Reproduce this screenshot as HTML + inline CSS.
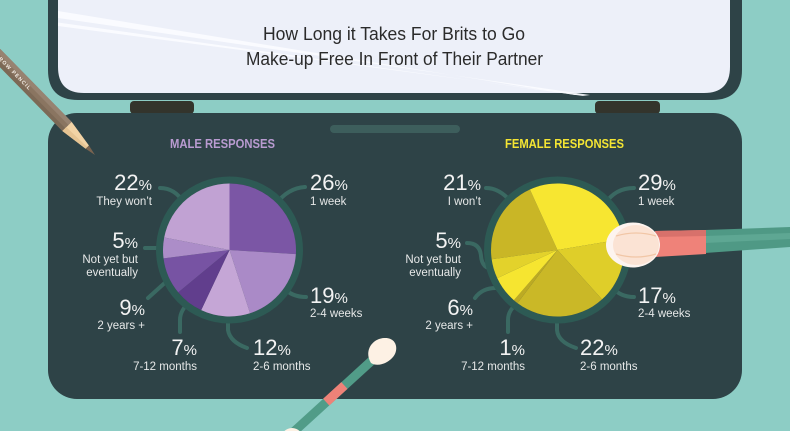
<!DOCTYPE html>
<html><head><meta charset="utf-8"><style>
html,body{margin:0;padding:0;background:#8dcdc5;}
svg{display:block;}
text{font-family:"Liberation Sans",sans-serif;}
</style></head><body>
<svg width="790" height="431" viewBox="0 0 790 431" xmlns="http://www.w3.org/2000/svg">
<rect x="0" y="0" width="790" height="431" fill="#8dcdc5"/>
<!-- top mirror frame -->
<path d="M48,-10 H742 V70 Q742,100 712,100 H78 Q48,100 48,70 Z" fill="#2e4347"/>
<path d="M58,-10 H730 V67 Q730,93 704,93 H84 Q58,93 58,67 Z" fill="#edf0f9"/>
<polygon points="58,11 58,18 590,95 575,95" fill="#fbfcff" opacity="0.9"/>
<polygon points="58,22.5 58,26 590,96 583,96" fill="#fbfcff" opacity="0.9"/>
<text x="263" y="40" font-size="18" fill="#2b2b2b" textLength="262" lengthAdjust="spacingAndGlyphs">How Long it Takes For Brits to Go</text>
<text x="246" y="65" font-size="18" fill="#2b2b2b" textLength="297" lengthAdjust="spacingAndGlyphs">Make-up Free In Front of Their Partner</text>
<!-- hinges -->
<rect x="130" y="101" width="64" height="13" rx="4" fill="#33342c"/>
<rect x="595" y="101" width="65" height="13" rx="4" fill="#33342c"/>
<!-- case -->
<rect x="48" y="113" width="694" height="286" rx="29" fill="#2e4347"/>
<rect x="330" y="125" width="130" height="8" rx="4" fill="#3d5e5c"/>
<!-- headers -->
<text x="170" y="148" font-size="12.5" font-weight="bold" fill="#b99bd1" textLength="105" lengthAdjust="spacingAndGlyphs">MALE RESPONSES</text>
<text x="505" y="148" font-size="12.5" font-weight="bold" fill="#f4e533" textLength="119" lengthAdjust="spacingAndGlyphs">FEMALE RESPONSES</text>

<!-- connectors -->
<g fill="none" stroke="#3a6962" stroke-width="4" stroke-linecap="round">
<path d="M160,188 Q175,188 184,203"/>
<path d="M276,204 Q288,188 305,187"/>
<path d="M145,248 L164,248"/>
<path d="M148,298 L168,280"/>
<path d="M190,302 Q180,310 180,320 L180,332"/>
<path d="M228,316 L228,330 Q230,342 247,348"/>
<path d="M284,288 Q292,297 306,297"/>
<path d="M486,188 Q500,188 512,203"/>
<path d="M605,204 Q615,188 634,188"/>
<path d="M467,243 Q480,243 481,256 Q482,269 494,269"/>
<path d="M475,298 Q482,288 496,288"/>
<path d="M518,303 Q508,310 508,320 L508,332"/>
<path d="M557,316 L557,330 Q558,342 576,348"/>
<path d="M612,287 Q620,297 634,297"/>
</g>

<!-- male pie -->
<circle cx="229.5" cy="250" r="70" fill="none" stroke="#2d5a54" stroke-width="7"/>
<path d="M229.5,250 L229.5,183.5 A66.5,66.5 0 0 1 295.87,254.18 Z" fill="#7b56a5"/>
<path d="M229.5,250 L295.87,254.18 A66.5,66.5 0 0 1 250.05,313.25 Z" fill="#aa8ac7"/>
<path d="M229.5,250 L250.05,313.25 A66.5,66.5 0 0 1 201.19,310.17 Z" fill="#c5a6d6"/>
<path d="M229.5,250 L201.19,310.17 A66.5,66.5 0 0 1 178.26,292.39 Z" fill="#613e8d"/>
<path d="M229.5,250 L178.26,292.39 A66.5,66.5 0 0 1 163.52,258.33 Z" fill="#7753a3"/>
<path d="M229.5,250 L163.52,258.33 A66.5,66.5 0 0 1 164.18,237.54 Z" fill="#ac8dc8"/>
<path d="M229.5,250 L164.18,237.54 A66.5,66.5 0 0 1 229.5,183.5 Z" fill="#c1a2d3"/>

<!-- female pie -->
<circle cx="557.5" cy="250" r="70" fill="none" stroke="#2d5a54" stroke-width="7"/>
<path d="M557.5,250 L491.65,259.25 A66.5,66.5 0 0 1 529.92,189.49 Z" fill="#c9b626"/>
<path d="M557.5,250 L529.92,189.49 A66.5,66.5 0 0 1 623.09,239.02 Z" fill="#f7e631"/>
<path d="M557.5,250 L623.09,239.02 A66.5,66.5 0 0 1 602.00,299.42 Z" fill="#dfce29"/>
<path d="M557.5,250 L602.00,299.42 A66.5,66.5 0 0 1 517.48,303.11 Z" fill="#cab827"/>
<path d="M557.5,250 L517.48,303.11 A66.5,66.5 0 0 1 513.87,300.19 Z" fill="#bcaa23"/>
<path d="M557.5,250 L513.87,300.19 A66.5,66.5 0 0 1 497.23,278.10 Z" fill="#f6e530"/>
<path d="M557.5,250 L497.23,278.10 A66.5,66.5 0 0 1 491.65,259.25 Z" fill="#e3d22b"/>

<!-- labels -->
<g fill="#f3f3f3" font-size="22">
<text x="152" y="190" text-anchor="end">22<tspan font-size="15">%</tspan></text>
<text x="310" y="190">26<tspan font-size="15">%</tspan></text>
<text x="138" y="248" text-anchor="end">5<tspan font-size="15">%</tspan></text>
<text x="145" y="315" text-anchor="end">9<tspan font-size="15">%</tspan></text>
<text x="197" y="355" text-anchor="end">7<tspan font-size="15">%</tspan></text>
<text x="253" y="355">12<tspan font-size="15">%</tspan></text>
<text x="310" y="303">19<tspan font-size="15">%</tspan></text>
<text x="481" y="190" text-anchor="end">21<tspan font-size="15">%</tspan></text>
<text x="638" y="190">29<tspan font-size="15">%</tspan></text>
<text x="461" y="248" text-anchor="end">5<tspan font-size="15">%</tspan></text>
<text x="473" y="315" text-anchor="end">6<tspan font-size="15">%</tspan></text>
<text x="525" y="355" text-anchor="end">1<tspan font-size="15">%</tspan></text>
<text x="580" y="355">22<tspan font-size="15">%</tspan></text>
<text x="638" y="303">17<tspan font-size="15">%</tspan></text>
</g>
<g fill="#e6e8e8" font-size="11.5">
<text x="152" y="205" text-anchor="end">They won’t</text>
<text x="310" y="205">1 week</text>
<text x="138" y="263" text-anchor="end">Not yet but</text>
<text x="138" y="276" text-anchor="end">eventually</text>
<text x="145" y="329" text-anchor="end">2 years +</text>
<text x="197" y="370" text-anchor="end">7-12 months</text>
<text x="253" y="370">2-6 months</text>
<text x="310" y="317">2-4 weeks</text>
<text x="481" y="205" text-anchor="end">I won’t</text>
<text x="638" y="205">1 week</text>
<text x="461" y="263" text-anchor="end">Not yet but</text>
<text x="461" y="276" text-anchor="end">eventually</text>
<text x="473" y="329" text-anchor="end">2 years +</text>
<text x="525" y="370" text-anchor="end">7-12 months</text>
<text x="580" y="370">2-6 months</text>
<text x="638" y="317">2-4 weeks</text>
</g>

<!-- right brush -->
<polygon points="705,230 790,227 790,247 705,253" fill="#4f9985"/>
<polygon points="705,236 790,233 790,239 705,243" fill="#5ea793"/>
<polygon points="655,231 706,230 706,254 655,257" fill="#ef8279"/>
<polygon points="655,231 706,230 706,236 655,237" fill="#d8716b"/>
<ellipse cx="633" cy="245" rx="27" ry="22.5" fill="#fdf4ef"/>
<ellipse cx="636" cy="245" rx="23" ry="20" fill="#fbe3d4"/>
<path d="M616,236 Q636,230 656,236" fill="none" stroke="#f1c6a6" stroke-width="1.2"/>
<path d="M616,254 Q636,260 656,254" fill="none" stroke="#f1c6a6" stroke-width="1.2"/>

<!-- bottom applicator -->
<line x1="379" y1="354" x2="288" y2="437" stroke="#519c88" stroke-width="9"/>
<line x1="344.4" y1="385.5" x2="326.2" y2="402.1" stroke="#ee8278" stroke-width="9.2"/>
<path d="M371,363 C364,352 371,339 384,338 C397,337 399,350 393,357 C387,364 377,367 371,363 Z" fill="#fdf1e4"/>
<circle cx="292" cy="439" r="11" fill="#fdf1e4"/>

<!-- pencil -->
<g transform="translate(95,155) rotate(45.6)">
<rect x="-220" y="-6.5" width="180" height="13" fill="#8a7561"/>
<rect x="-220" y="-6.5" width="180" height="4.5" fill="#978371"/>
<rect x="-220" y="2.5" width="180" height="4" fill="#7c6956"/>
<polygon points="-40,-6.5 -11,-2.3 -11,2.3 -40,6.5" fill="#f2d3a5"/>
<polygon points="-40,1 -11,0 -11,2.3 -40,6.5" fill="#e6c493"/>
<polygon points="-11,-2.3 0,0 -11,2.3" fill="#7a6450"/>
<text x="-141" y="1.9" font-size="5.2" font-weight="bold" fill="#f4efe8" textLength="48" lengthAdjust="spacing">BROW PENCIL</text>
</g>
</svg>
</body></html>
